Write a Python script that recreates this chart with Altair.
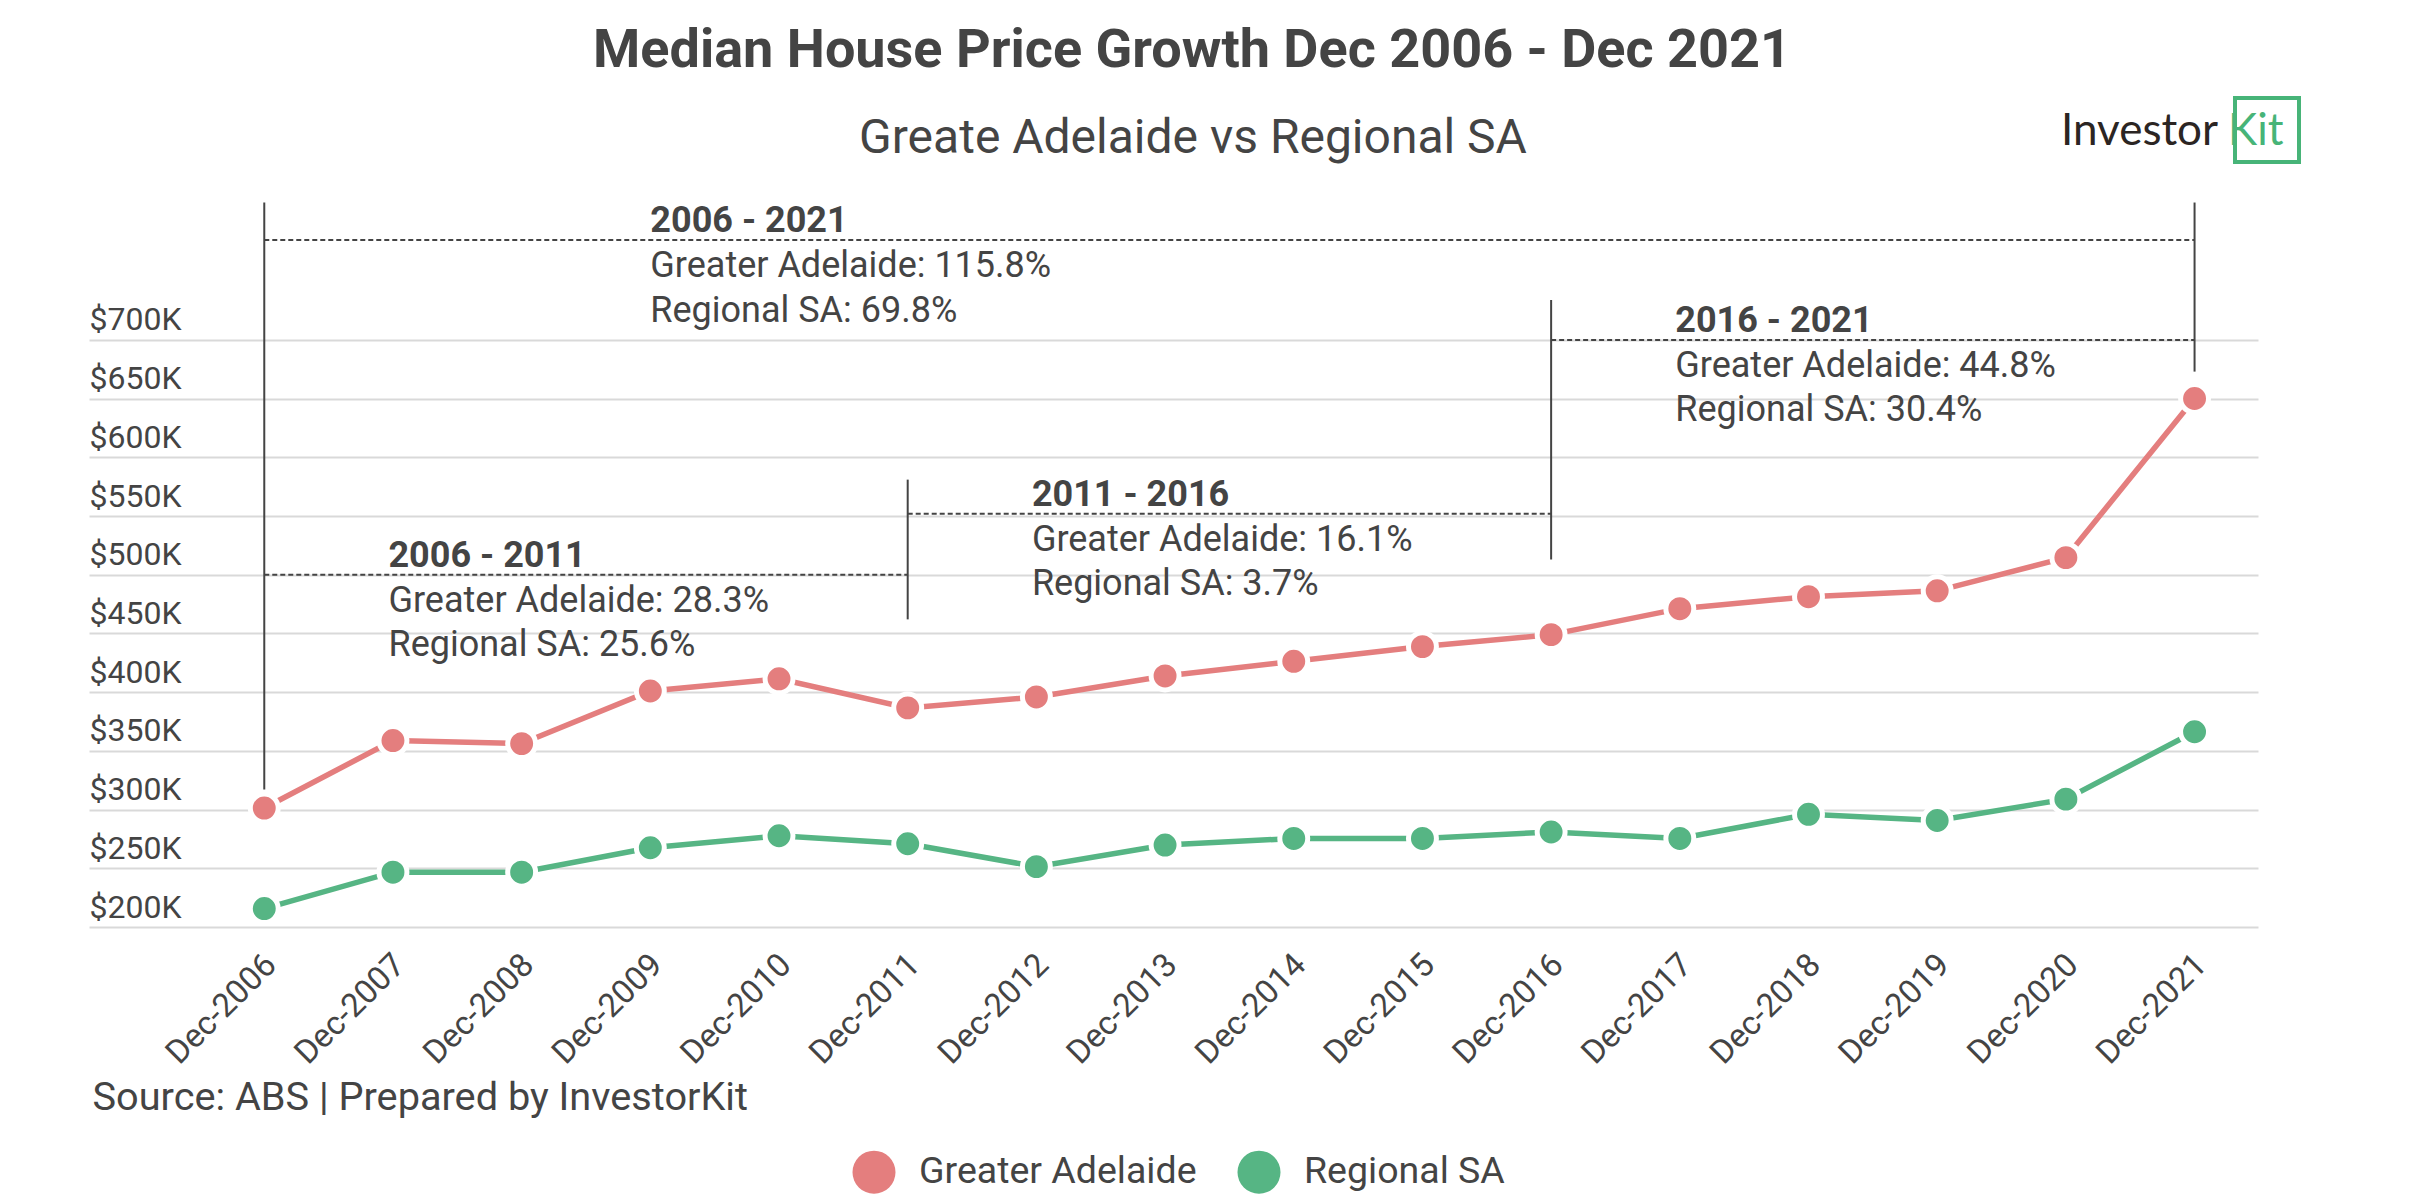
import altair as alt
import pandas as pd

# ---- data -------------------------------------------------------------
periods = ["Dec-2006", "Dec-2007", "Dec-2008", "Dec-2009", "Dec-2010", "Dec-2011",
           "Dec-2012", "Dec-2013", "Dec-2014", "Dec-2015", "Dec-2016", "Dec-2017",
           "Dec-2018", "Dec-2019", "Dec-2020", "Dec-2021"]
greater_adelaide = [301300, 358800, 356200, 401000, 411400, 386600, 395900, 413800,
                    426300, 438800, 449000, 471100, 481300, 486300, 514600, 650100]
regional_sa = [215700, 246700, 246700, 267500, 277700, 270900, 251400, 269800,
               275400, 275400, 280900, 275400, 296000, 290700, 308900, 366300]
series_names = ["Greater Adelaide", "Regional SA"]
series_colors = ["#E47E7E", "#56B584"]

y_ticks = [200000, 250000, 300000, 350000, 400000, 450000, 500000, 550000,
           600000, 650000, 700000]

# growth brackets drawn over the chart
bracket_labels = ["2006 - 2011", "2011 - 2016", "2016 - 2021", "2006 - 2021"]
bracket_start = [2006, 2011, 2016, 2006]
bracket_end = [2011, 2016, 2021, 2021]
bracket_level = [500000, 552000, 700000, 785000]
bracket_text_at = [2006.965, 2011.965, 2016.965, 2009]
adelaide_growth = ["28.3%", "16.1%", "44.8%", "115.8%"]
regional_growth = ["25.6%", "3.7%", "30.4%", "69.8%"]

# vertical bracket ends
marker_years = [2006, 2011, 2016, 2021]
marker_top = [817000, 581000, 734000, 817000]
marker_bottom = [317000, 462000, 513000, 673000]

chart_title = "Median House Price Growth Dec 2006 - Dec 2021"
chart_subtitle = "Greate Adelaide vs Regional SA"
source_note = "Source: ABS | Prepared by InvestorKit"
brand_left, brand_right = "Investor", "Kit"

# ---- tables -----------------------------------------------------------
years = [int(p.split("-")[1]) for p in periods]
prices = pd.DataFrame({
    "year": years * 2,
    "series": [series_names[0]] * len(years) + [series_names[1]] * len(years),
    "price": greater_adelaide + regional_sa,
})
brackets = pd.DataFrame({
    "label": bracket_labels,
    "start": bracket_start,
    "end": bracket_end,
    "level": bracket_level,
    "text_at": bracket_text_at,
    "line1": ["Greater Adelaide: " + g for g in adelaide_growth],
    "line2": ["Regional SA: " + g for g in regional_growth],
})
markers = pd.DataFrame({"year": marker_years, "top": marker_top, "bottom": marker_bottom})

FONT = "Roboto"
INK = "#444444"
W, H = 2169, 728

period_array = "[" + ",".join("'" + p + "'" for p in periods) + "]"


def xq(field):
    return alt.X(
        f"{field}:Q", title=None,
        scale=alt.Scale(domain=[2004.638, 2021.493], nice=False, zero=False),
        axis=alt.Axis(values=years, labelExpr=f"{period_array}[datum.value - {years[0]}]",
                      labelAngle=-45, labelAlign="right", labelBaseline="top",
                      labelPadding=21, labelOffset=-5, labelFont=FONT, labelFontSize=33,
                      labelColor=INK, ticks=False, domain=False, grid=False,
                      labelFlush=False, labelOverlap=False, labelBound=False, title=None),
    )


def yq(field):
    return alt.Y(
        f"{field}:Q", title=None,
        scale=alt.Scale(domain=[200000, 820000], nice=False, zero=False),
        axis=alt.Axis(values=y_ticks, labelExpr="'$' + (datum.value / 1000) + 'K'",
                      labelAlign="left", labelBaseline="alphabetic", labelPadding=0,
                      labelOffset=-10, tickSize=0, ticks=False, domain=False, grid=True,
                      gridColor="#d9d9d9", gridWidth=2, labelFont=FONT, labelFontSize=32,
                      labelColor=INK, labelFlush=False, labelOverlap=False,
                      labelBound=False, title=None),
    )


color_scale = alt.Scale(domain=series_names, range=series_colors)
series_legend = alt.Legend(
    title=None, orient="none", legendX=763, legendY=951, direction="horizontal",
    symbolType="circle", symbolSize=1850, symbolStrokeWidth=0, symbolOpacity=1,
    labelFont=FONT, labelFontSize=37.5, labelColor=INK,
    labelOffset=23, columnPadding=40, padding=0, labelLimit=0)
series_color = alt.Color("series:N", scale=color_scale, legend=series_legend)

ends = alt.Chart(markers).mark_rule(color=INK, strokeWidth=2).encode(
    x=xq("year"), y=yq("top"), y2="bottom:Q")

dashes = alt.Chart(brackets).mark_rule(color=INK, strokeWidth=2, strokeDash=[5, 3]).encode(
    x=xq("start"), x2="end:Q", y=yq("level"))

lines = alt.Chart(prices).mark_line(strokeWidth=5.5).encode(
    x=xq("year"), y=yq("price"), color=series_color)

points = alt.Chart(prices).mark_circle(size=780, opacity=1, stroke="white", strokeWidth=5).encode(
    x=xq("year"), y=yq("price"), color=series_color)

headers = alt.Chart(brackets).mark_text(
    align="left", baseline="alphabetic", dy=-8, font=FONT, fontWeight="bold",
    fontSize=36, color=INK).encode(x=xq("text_at"), y=yq("level"), text="label:N")
first_lines = alt.Chart(brackets).mark_text(
    align="left", baseline="alphabetic", dy=37, font=FONT, fontSize=36,
    color=INK).encode(x=xq("text_at"), y=yq("level"), text="line1:N")
second_lines = alt.Chart(brackets).mark_text(
    align="left", baseline="alphabetic", dy=81.5, font=FONT, fontSize=36,
    color=INK).encode(x=xq("text_at"), y=yq("level"), text="line2:N")

# headings, source note and brand mark
texts = pd.DataFrame({
    "title": [chart_title], "subtitle": [chart_subtitle], "source": [source_note],
    "brand_left": [brand_left], "brand_right": [brand_right],
})
title = alt.Chart(texts).mark_text(
    align="center", baseline="alphabetic", font=FONT, fontWeight="bold", fontSize=54,
    color=INK).encode(text="title:N", x=alt.value(1103), y=alt.value(-132.5))
subtitle = alt.Chart(texts).mark_text(
    align="center", baseline="alphabetic", font=FONT, fontSize=48,
    color=INK).encode(text="subtitle:N", x=alt.value(1104), y=alt.value(-46))
source = alt.Chart(texts).mark_text(
    align="left", baseline="alphabetic", font=FONT, fontSize=39.7,
    color=INK).encode(text="source:N", x=alt.value(3.5), y=alt.value(911))
brand_a = alt.Chart(texts).mark_text(
    align="left", baseline="alphabetic", font="Lato", fontSize=44,
    color="#2b2523").encode(text="brand_left:N", x=alt.value(1972), y=alt.value(-54))
brand_b = alt.Chart(texts).mark_text(
    align="left", baseline="alphabetic", font="Lato", fontSize=44,
    color="#47B478").encode(text="brand_right:N", x=alt.value(2139), y=alt.value(-54))
brand_box = alt.Chart(texts).mark_rect(
    fillOpacity=0, stroke="#47B478", strokeWidth=4).encode(
    x=alt.value(2146), x2=alt.value(2210), y=alt.value(-101), y2=alt.value(-37))

chart = alt.layer(
    ends, dashes, lines, points, headers, first_lines, second_lines,
    title, subtitle, source, brand_a, brand_b, brand_box,
).properties(
    width=W, height=H,
    autosize=alt.AutoSizeParams(type="none"),
    padding={"left": 89, "top": 199, "right": 2409 - 89 - W, "bottom": 1200 - 199 - H},
    background="white",
).configure(font=FONT).configure_view(strokeWidth=0, stroke=None)

chart.save("out.html", embed_options={"renderer": "svg", "actions": False})
